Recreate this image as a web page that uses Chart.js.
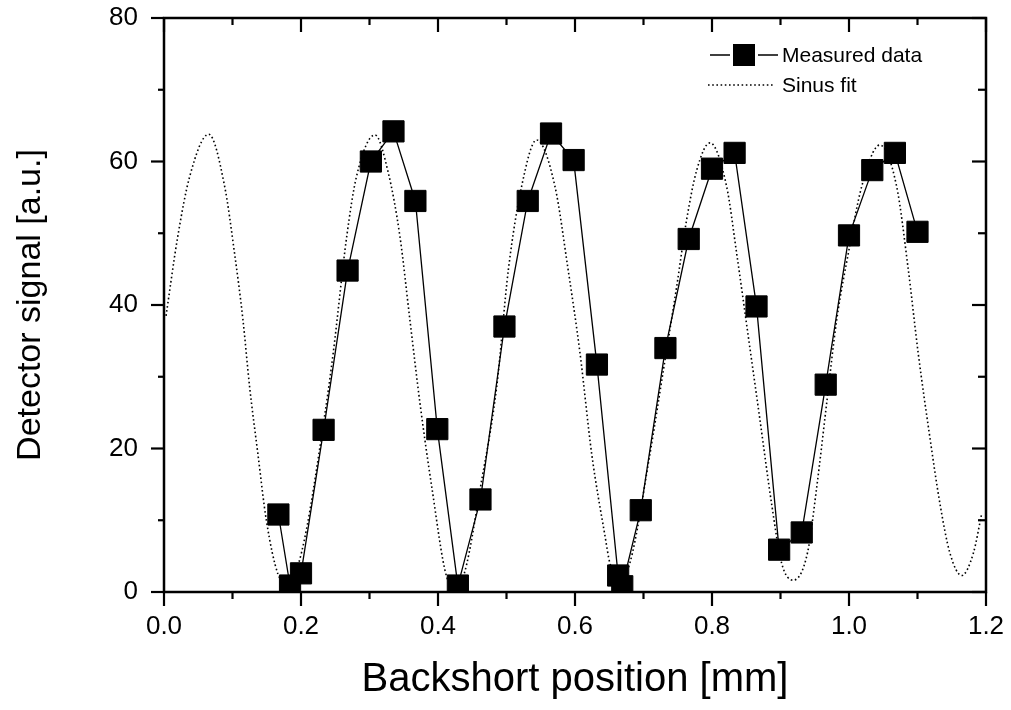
<!DOCTYPE html>
<html><head><meta charset="utf-8">
<script src="https://cdn.jsdelivr.net/npm/chart.js@4.4.1/dist/chart.umd.min.js"></script>
<style>html,body{margin:0;padding:0;background:#fff;} canvas{display:block;}</style>
</head><body>
<canvas id="c" width="1011" height="710"></canvas>
<script>
// ---- data ----
const measuredX = [0.167,0.184,0.200,0.233,0.268,0.302,0.335,0.367,0.399,0.429,0.462,0.497,0.531,0.565,0.598,0.632,0.663,0.669,0.696,0.732,0.766,0.800,0.833,0.865,0.898,0.931,0.966,1.000,1.034,1.067,1.100];
const measuredY = [10.8,0.9,2.6,22.6,44.8,60.0,64.2,54.5,22.7,0.9,12.9,37.0,54.5,63.9,60.2,31.7,2.3,0.8,11.4,34.0,49.2,59.0,61.2,39.8,5.9,8.3,28.9,49.7,58.8,61.2,50.2];
const fitX = [0.003,0.020,0.0375,0.0653,0.0886,0.103,0.1153,0.125,0.137,0.1494,0.1664,0.181,0.201,0.235,0.247,0.2667,0.281,0.308,0.3275,0.3445,0.359,0.3737,0.3908,0.4127,0.424,0.4346,0.4638,0.4857,0.5027,0.522,0.544,0.5708,0.590,0.6073,0.6243,0.644,0.651,0.6655,0.680,0.7095,0.729,0.7485,0.763,0.7777,0.797,0.8214,0.836,0.853,0.870,0.887,0.9017,0.9187,0.9395,0.953,0.9674,0.982,0.999,1.0185,1.045,1.0696,1.0866,1.101,1.118,1.1328,1.1474,1.1645,1.1815,1.1937];
const fitY = [38.5,49.5,57.9,63.8,56.5,47.2,37.9,28.6,19.3,10.0,2.5,1.2,5.6,24.9,33.3,49.5,57.9,63.7,58.4,49.5,37.9,26.3,14.7,2.1,0.9,1.6,15.6,28.6,44.9,56.5,63.0,56.5,44.9,33.3,19.3,7.7,4.0,1.9,4.0,19.3,30.9,42.6,51.9,58.8,62.6,56.5,47.2,35.6,24.0,12.3,4.0,1.65,5.5,14.7,26.3,37.9,47.2,56.5,62.3,56.5,44.9,33.3,21.6,12.3,5.4,2.3,5.4,10.9];
const seriesNames = ['Measured data','Sinus fit'];
const xTickValues = [0,0.2,0.4,0.6,0.8,1.0,1.2];
const xTickLabels = ['0.0','0.2','0.4','0.6','0.8','1.0','1.2'];
const xMinorTicks = [0.1,0.3,0.5,0.7,0.9,1.1];
const yTickValues = [0,20,40,60,80];
const yTickLabels = ['0','20','40','60','80'];
const yMinorTicks = [10,30,50,70];
const xTitle = 'Backshort position [mm]';
const yTitle = 'Detector signal [a.u.]';

const FONT = '"Liberation Sans", Arial, sans-serif';

const framePlugin = {
  id: 'frame',
  afterDatasetsDraw(chart) {
    const {ctx, chartArea: a, scales: {x, y}} = chart;
    ctx.save();
    ctx.strokeStyle = '#000';
    ctx.lineWidth = 2.5;
    ctx.strokeRect(a.left, a.top, a.right - a.left, a.bottom - a.top);
    const seg = (x1, y1, x2, y2) => { ctx.beginPath(); ctx.moveTo(x1, y1); ctx.lineTo(x2, y2); ctx.stroke(); };
    ctx.lineWidth = 2.2;
    xTickValues.forEach(v => { const p = x.getPixelForValue(v); seg(p, a.bottom, p, a.bottom + 14); seg(p, a.top, p, a.top + 14); });
    xMinorTicks.forEach(v => { const p = x.getPixelForValue(v); seg(p, a.bottom, p, a.bottom + 7); seg(p, a.top, p, a.top + 7); });
    yTickValues.forEach(v => { const p = y.getPixelForValue(v); seg(a.left - 13, p, a.left, p); seg(a.right - 14, p, a.right, p); });
    yMinorTicks.forEach(v => { const p = y.getPixelForValue(v); seg(a.left - 6, p, a.left, p); seg(a.right - 8, p, a.right, p); });
    ctx.restore();
  }
};

const legendPlugin = {
  id: 'legendInside',
  afterDraw(chart) {
    const {ctx, chartArea: a} = chart;
    const ds = chart.data.datasets;
    const lx0 = a.right - 276, lx1 = a.right - 208, tx = a.right - 204;
    const rows = [a.top + 37, a.top + 67];
    ctx.save();
    ctx.fillStyle = '#000'; ctx.strokeStyle = '#000';
    ctx.font = '21px ' + FONT;
    ctx.textBaseline = 'middle';
    let yy = rows[0];
    ctx.lineWidth = 1.4;
    ctx.beginPath(); ctx.moveTo(lx0, yy); ctx.lineTo(lx0 + 20, yy); ctx.moveTo(lx1 - 20, yy); ctx.lineTo(lx1, yy); ctx.stroke();
    const cx = (lx0 + lx1) / 2;
    ctx.fillRect(cx - 11, yy - 11, 22, 22);
    ctx.fillText(ds[0].label, tx, yy + 1);
    yy = rows[1];
    ctx.lineWidth = 1.6; ctx.setLineDash([1.6, 2.6]);
    ctx.beginPath(); ctx.moveTo(lx0 - 2, yy); ctx.lineTo(lx1 - 3, yy); ctx.stroke();
    ctx.setLineDash([]);
    ctx.fillText(ds[1].label, tx, yy + 1);
    ctx.restore();
  }
};

new Chart(document.getElementById('c'), {
  type: 'line',
  data: {
    datasets: [
      {
        label: seriesNames[0],
        data: measuredX.map((v, i) => ({x: v, y: measuredY[i]})),
        borderColor: '#000', backgroundColor: '#000', borderWidth: 1.3,
        pointStyle: 'rect', pointRadius: 15, pointHoverRadius: 15, pointBorderWidth: 1,
        pointBackgroundColor: '#000', pointBorderColor: '#000',
        tension: 0, order: 0
      },
      {
        label: seriesNames[1],
        data: fitX.map((v, i) => ({x: v, y: fitY[i]})),
        borderColor: '#000', borderWidth: 1.6, borderDash: [1.6, 2.6],
        pointRadius: 0, pointHoverRadius: 0, cubicInterpolationMode: 'monotone', order: 1
      }
    ]
  },
  options: {
    responsive: false, animation: false, devicePixelRatio: 1,
    layout: {autoPadding: false, padding: {left: 0, right: 25, top: 18, bottom: 3}},
    plugins: {legend: {display: false}, tooltip: {enabled: false}},
    scales: {
      x: {
        type: 'linear', min: 0, max: 1.2,
        afterBuildTicks: s => { s.ticks = xTickValues.map(v => ({value: v})); },
        afterFit: s => { s.height = 115; s.paddingLeft = 0; s.paddingRight = 0; },
        ticks: {callback: (v, i) => xTickLabels[i], color: '#000', font: {family: FONT, size: 26}, padding: 19, maxRotation: 0, autoSkip: false},
        grid: {display: false, drawTicks: false},
        border: {display: false},
        title: {display: true, text: xTitle, color: '#000', font: {family: FONT, size: 40}, padding: {top: 14, bottom: 3}}
      },
      y: {
        type: 'linear', min: 0, max: 80,
        afterBuildTicks: s => { s.ticks = yTickValues.map(v => ({value: v})); },
        afterFit: s => { s.width = 164; s.paddingTop = 0; s.paddingBottom = 0; },
        ticks: {callback: (v, i) => yTickLabels[i], color: '#000', font: {family: FONT, size: 26}, padding: 26, autoSkip: false},
        grid: {display: false, drawTicks: false},
        border: {display: false},
        title: {display: true, text: yTitle, color: '#000', font: {family: FONT, size: 34}, padding: {top: 10.6, bottom: 10}}
      }
    }
  },
  plugins: [framePlugin, legendPlugin]
});
</script>
</body></html>
